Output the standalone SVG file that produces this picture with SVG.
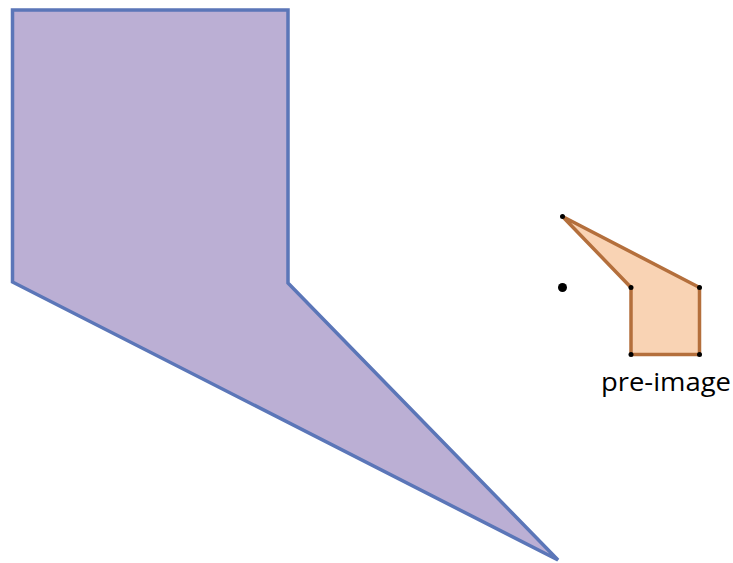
<svg xmlns="http://www.w3.org/2000/svg" width="733" height="563" viewBox="0 0 733 563">
<style>
.img{fill:#bbafd4;stroke:#5b76b8;stroke-width:3.5;stroke-linejoin:miter}
.pre{fill:#f9d3b4;stroke:#b46f3c;stroke-width:3.5;stroke-linejoin:round}
.v{fill:#000}
.lbl{font-family:"Open Sans","Liberation Sans",sans-serif;font-size:25px;fill:#000}
</style>
<rect width="733" height="563" fill="#fff"/>
<g id="image">
<polygon class="img" points="12.5,10 288,10 288,283 558,560 12.5,282"/>
</g>
<g id="preimage">
<polygon class="pre" points="562.5,216.5 699.5,287.5 699.5,354.5 631,354.5 631,287.5"/>
<circle class="v" cx="562.5" cy="216.5" r="2.5"/>
<circle class="v" cx="699.5" cy="287.5" r="2.5"/>
<circle class="v" cx="699.5" cy="354.5" r="2.5"/>
<circle class="v" cx="631" cy="354.5" r="2.5"/>
<circle class="v" cx="631" cy="287.5" r="2.5"/>
<text class="lbl" x="601" y="391" textLength="130" lengthAdjust="spacingAndGlyphs">pre-image</text>
</g>
<g id="center">
<circle class="v" cx="562.5" cy="287.5" r="4.5"/>
</g>
</svg>
